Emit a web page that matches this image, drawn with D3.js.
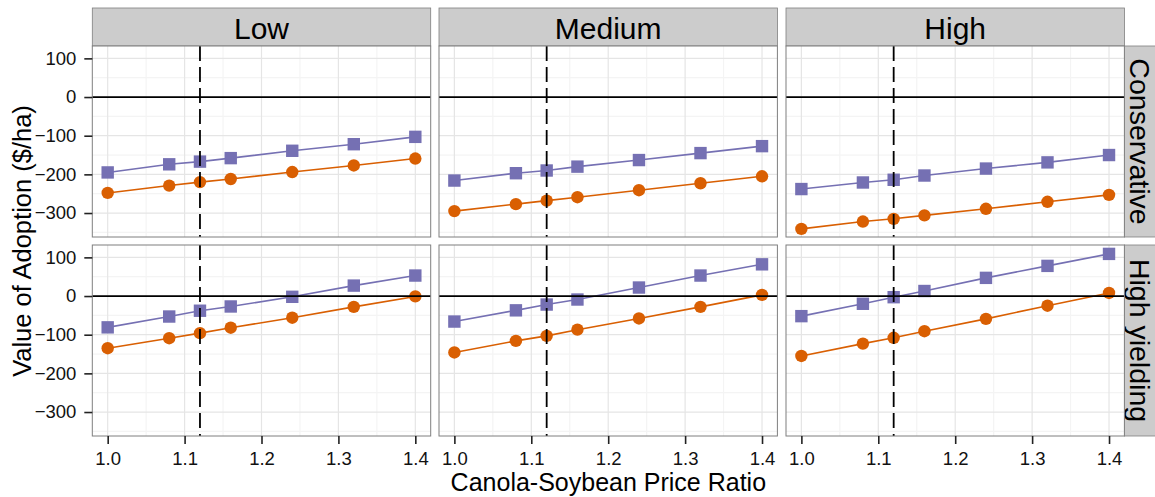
<!DOCTYPE html>
<html>
<head>
<meta charset="utf-8">
<script src="https://cdn.jsdelivr.net/npm/d3@7"></script>
<style>
  html, body { margin: 0; padding: 0; background: #ffffff; }
  svg { display: block; font-family: "Liberation Sans", Arial, Helvetica, sans-serif; }
</style>
</head>
<body>
<svg id="chart" width="1155" height="497"></svg>
<script>
// Facet levels
const colLevels = ["Low", "Medium", "High"];
const rowLevels = ["Conservative", "High yielding"];

// Canola-soybean price ratios evaluated
const priceRatios = [1.0, 1.08, 1.12, 1.16, 1.24, 1.32, 1.4];

// Value of adoption ($/ha), square series, by panel
const squareLowConservative    = [-195, -174, -167, -158, -139, -122, -103];
const squareMediumConservative = [-216, -197, -190, -180, -163, -145, -127];
const squareHighConservative   = [-238, -221, -214, -203, -185, -169, -150];
const squareLowHighYielding    = [-81, -53, -38, -27, -2, 27, 53];
const squareMediumHighYielding = [-66, -37, -22, -9, 22, 53, 82];
const squareHighHighYielding   = [-52, -20, -3, 13, 47, 78, 109];

// Value of adoption ($/ha), circle series, by panel
const circleLowConservative    = [-248, -229, -220, -212, -194, -177, -159];
const circleMediumConservative = [-295, -277, -268, -259, -241, -223, -205];
const circleHighConservative   = [-341, -322, -315, -306, -289, -271, -253];
const circleLowHighYielding    = [-135, -109, -96, -82, -56, -28, -1];
const circleMediumHighYielding = [-146, -116, -103, -87, -58, -28, 3];
const circleHighHighYielding   = [-155, -123, -108, -91, -59, -25, 8];

// Axis ticks
const xTicks = [1.0, 1.1, 1.2, 1.3, 1.4];
const xMinorTicks = [1.05, 1.15, 1.25, 1.35];
const yTicks = [-300, -200, -100, 0, 100];
const yMinorTicks = [-350, -250, -150, -50, 50];

// Reference lines
const breakEvenValue = 0;
const currentRatio = 1.12;

const squareGrid = [
  [squareLowConservative, squareMediumConservative, squareHighConservative],
  [squareLowHighYielding, squareMediumHighYielding, squareHighHighYielding]
];
const circleGrid = [
  [circleLowConservative, circleMediumConservative, circleHighConservative],
  [circleLowHighYielding, circleMediumHighYielding, circleHighHighYielding]
];

// Layout
const panelLefts = [92.3, 439, 786];
const panelTops = [46, 245];
const pw = 338.4, ph = 191;
const stripH = 38;

const squareColor = "#7570B3";
const circleColor = "#D95F02";
const textColor = "#111111";

const svg = d3.select("#chart");

const x = d3.scaleLinear().domain([0.98, 1.42]).range([0, pw]);
const y = d3.scaleLinear().domain([-362, 132]).range([ph, 0]);

const line = d3.line().x(d => x(d[0])).y(d => y(d[1]));

// Column strips
colLevels.forEach((lvl, c) => {
  const g = svg.append("g").attr("transform", `translate(${panelLefts[c]},${panelTops[0] - stripH})`);
  g.append("rect").attr("width", pw).attr("height", stripH)
    .attr("fill", "#cccccc").attr("stroke", "#7f7f7f").attr("stroke-width", 0.8);
  g.append("text").attr("x", pw / 2).attr("y", stripH / 2 + 1)
    .attr("text-anchor", "middle").attr("dominant-baseline", "central")
    .attr("font-size", 30).attr("fill", "#000").text(lvl);
});

// Row strips
rowLevels.forEach((lvl, r) => {
  const left = panelLefts[2] + pw;
  const g = svg.append("g").attr("transform", `translate(${left},${panelTops[r]})`);
  g.append("rect").attr("width", stripH).attr("height", ph)
    .attr("fill", "#cccccc").attr("stroke", "#7f7f7f").attr("stroke-width", 0.8);
  g.append("text")
    .attr("transform", `translate(${16},${ph / 2}) rotate(90)`)
    .attr("text-anchor", "middle").attr("dominant-baseline", "central")
    .attr("font-size", 28.5).attr("fill", "#000").text(lvl);
});

rowLevels.forEach((rl, r) => {
  colLevels.forEach((cl, c) => {
    const g = svg.append("g").attr("transform", `translate(${panelLefts[c]},${panelTops[r]})`);
    g.append("rect").attr("width", pw).attr("height", ph).attr("fill", "#ffffff");

    // grid
    g.selectAll(".xminor").data(xMinorTicks).enter().append("line")
      .attr("x1", d => x(d)).attr("x2", d => x(d)).attr("y1", 0).attr("y2", ph)
      .attr("stroke", "#f4f4f4").attr("stroke-width", 1.2);
    g.selectAll(".yminor").data(yMinorTicks).enter().append("line")
      .attr("y1", d => y(d)).attr("y2", d => y(d)).attr("x1", 0).attr("x2", pw)
      .attr("stroke", "#f4f4f4").attr("stroke-width", 1.2);
    g.selectAll(".xmajor").data(xTicks).enter().append("line")
      .attr("x1", d => x(d)).attr("x2", d => x(d)).attr("y1", 0).attr("y2", ph)
      .attr("stroke", "#e5e5e5").attr("stroke-width", 1.2);
    g.selectAll(".ymajor").data(yTicks).enter().append("line")
      .attr("y1", d => y(d)).attr("y2", d => y(d)).attr("x1", 0).attr("x2", pw)
      .attr("stroke", "#e5e5e5").attr("stroke-width", 1.2);

    const sq = priceRatios.map((p, i) => [p, squareGrid[r][c][i]]);
    const ci = priceRatios.map((p, i) => [p, circleGrid[r][c][i]]);

    g.append("path").datum(sq).attr("d", line).attr("fill", "none")
      .attr("stroke", squareColor).attr("stroke-width", 1.6);
    g.append("path").datum(ci).attr("d", line).attr("fill", "none")
      .attr("stroke", circleColor).attr("stroke-width", 1.6);

    const s = 12.4;
    g.selectAll(".sq").data(sq).enter().append("rect")
      .attr("x", d => x(d[0]) - s / 2).attr("y", d => y(d[1]) - s / 2)
      .attr("width", s).attr("height", s).attr("fill", squareColor);
    g.selectAll(".ci").data(ci).enter().append("circle")
      .attr("cx", d => x(d[0])).attr("cy", d => y(d[1])).attr("r", 6.2)
      .attr("fill", circleColor);

    // reference lines
    g.append("line").attr("x1", 0).attr("x2", pw)
      .attr("y1", y(breakEvenValue)).attr("y2", y(breakEvenValue))
      .attr("stroke", "#000").attr("stroke-width", 1.8);
    g.append("line").attr("x1", x(currentRatio)).attr("x2", x(currentRatio))
      .attr("y1", 0).attr("y2", ph)
      .attr("stroke", "#000").attr("stroke-width", 1.8).attr("stroke-dasharray", "15,6");

    g.append("rect").attr("width", pw).attr("height", ph).attr("fill", "none")
      .attr("stroke", "#7f7f7f").attr("stroke-width", 1);

    // y axis on first column
    if (c === 0) {
      const ax = g.append("g").call(d3.axisLeft(y).tickValues(yTicks).tickSize(8).tickPadding(8)
        .tickFormat(d3.format("d")));
      ax.select(".domain").remove();
      ax.selectAll(".tick line").attr("stroke", "#222").attr("stroke-width", 1.6);
      ax.selectAll(".tick text").attr("font-size", 18.5).attr("fill", textColor)
        .attr("font-family", "Liberation Sans, Arial, sans-serif");
    }
    // x axis on bottom row
    if (r === rowLevels.length - 1) {
      const ax = g.append("g").attr("transform", `translate(0,${ph})`)
        .call(d3.axisBottom(x).tickValues(xTicks).tickSize(8).tickPadding(8)
        .tickFormat(d3.format(".1f")));
      ax.select(".domain").remove();
      ax.selectAll(".tick line").attr("stroke", "#222").attr("stroke-width", 1.6);
      ax.selectAll(".tick text").attr("font-size", 18.5).attr("fill", textColor)
        .attr("font-family", "Liberation Sans, Arial, sans-serif");
    }
  });
});

// Axis titles
const plotLeft = panelLefts[0], plotRight = panelLefts[2] + pw;
svg.append("text").attr("x", (plotLeft + plotRight) / 2).attr("y", 491)
  .attr("text-anchor", "middle").attr("font-size", 25).attr("fill", "#000")
  .text("Canola-Soybean Price Ratio");
svg.append("text")
  .attr("transform", `translate(31,${(panelTops[0] + panelTops[1] + ph) / 2}) rotate(-90)`)
  .attr("text-anchor", "middle").attr("font-size", 25.5).attr("fill", "#000")
  .text("Value of Adoption ($/ha)");
</script>
</body>
</html>
